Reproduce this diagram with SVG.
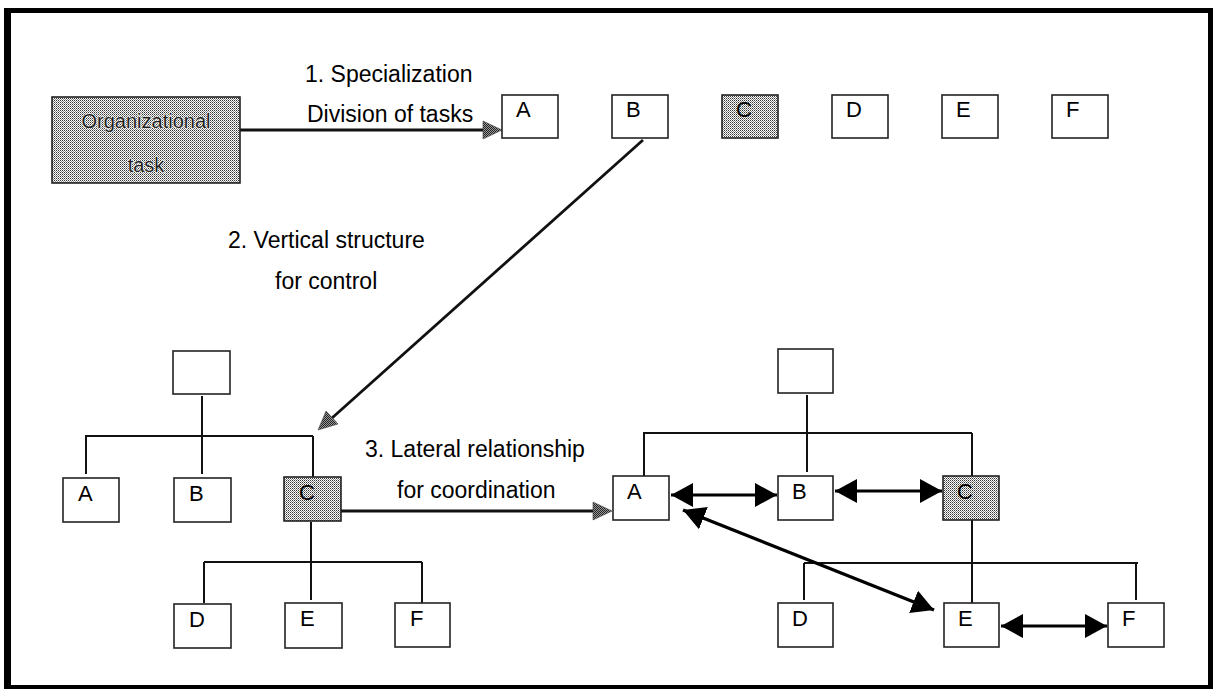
<svg xmlns="http://www.w3.org/2000/svg" width="1218" height="691" viewBox="0 0 1218 691">
  <defs>
    <!-- halftone screen used for shaded boxes and hollow arrowheads -->
    <pattern id="screen" width="2" height="2" patternUnits="userSpaceOnUse">
      <rect width="2" height="2" fill="#fff"/>
      <rect width="1" height="1" fill="#333"/>
      <rect x="1" y="1" width="1" height="1" fill="#888"/>
    </pattern>
    <pattern id="screen-dark" width="2" height="2" patternUnits="userSpaceOnUse">
      <rect width="2" height="2" fill="#999"/>
      <rect width="1" height="1" fill="#222"/>
      <rect x="1" y="1" width="1" height="1" fill="#222"/>
    </pattern>
    <marker id="head" markerUnits="userSpaceOnUse" markerWidth="24" markerHeight="26" refX="22" refY="12" orient="auto-start-reverse">
      <path d="M0,0 L22,12 L0,24 Z" fill="#000"/>
    </marker>
    <style>
      .box { fill: #fff; stroke: #222; stroke-width: 1.6; }
      .shaded { fill: url(#screen); stroke: #222; stroke-width: 1.6; }
      .lbl { font-family: "Liberation Sans", Arial, sans-serif; font-size: 22px; fill: #000; }
      .cap { font-family: "Liberation Sans", Arial, sans-serif; font-size: 23px; fill: #000; }
      .task { font-family: "Liberation Sans", Arial, sans-serif; font-size: 20px; fill: #1e1e1e; stroke: #fff; stroke-width: 1; paint-order: stroke; }
      .tree { stroke: #111; stroke-width: 2; fill: none; }
      .flow { stroke: #111; stroke-width: 2.8; fill: none; }
      .link { stroke: #000; stroke-width: 2.8; fill: none; marker-start: url(#head); marker-end: url(#head); }
      .tip { fill: url(#screen-dark); stroke: #444; stroke-width: 0.6; }
    </style>
  </defs>

  <!-- page frame -->
  <g id="frame" fill="#000">
    <rect x="4" y="8" width="7" height="681"/>
    <rect x="4" y="8" width="1209" height="5"/>
    <rect x="1208" y="8" width="5" height="681"/>
    <rect x="4" y="685" width="1209" height="4"/>
  </g>

  <!-- captions -->
  <g id="captions" class="cap">
    <text x="305" y="82">1. Specialization</text>
    <text x="307" y="122">Division of tasks</text>
    <text x="228" y="248">2. Vertical structure</text>
    <text x="275" y="289">for control</text>
    <text x="365" y="457">3. Lateral relationship</text>
    <text x="397" y="498">for coordination</text>
  </g>

  <!-- connectors -->
  <g id="connectors">
    <!-- step 1: task split into A..F -->
    <line class="flow" x1="240" y1="130" x2="485" y2="130"/>
    <polygon class="tip" points="502,130 483,121 483,139"/>
    <!-- step 2: towards the hierarchy -->
    <line class="flow" x1="643" y1="140" x2="332" y2="418"/>
    <polygon class="tip" points="318,430 338,424 326,411"/>
    <!-- step 3: towards the lateral structure -->
    <line class="flow" x1="341" y1="511" x2="595" y2="511"/>
    <polygon class="tip" points="612,511 593,502 593,520"/>

    <!-- left hierarchy -->
    <path class="tree" d="M202,396 V474 M85,436 H313 M86,436 V474 M313,436 V477"/>
    <path class="tree" d="M311,522 V600 M204,562 H422 M204,562 V603 M422,562 V603"/>

    <!-- right hierarchy -->
    <path class="tree" d="M807,395 V472 M643,433 H972 M644,433 V476 M972,433 V476"/>
    <path class="tree" d="M972,520 V606 M804,563 H1138 M804,563 V600 M1136,563 V600"/>

    <!-- lateral links -->
    <line class="link" x1="671" y1="495" x2="777" y2="495"/>
    <line class="link" x1="835" y1="491" x2="942" y2="491"/>
    <line class="link" x1="683" y1="510" x2="934" y2="610" style="stroke-width:3.4"/>
    <line class="link" x1="1001" y1="626" x2="1107" y2="626"/>
  </g>

  <!-- organizational task -->
  <g id="task">
    <rect class="shaded" x="52" y="97" width="188" height="86"/>
    <text class="task" x="146" y="128" text-anchor="middle">Organizational</text>
    <text class="task" x="146" y="172" text-anchor="middle">task</text>
  </g>

  <!-- top row: divided tasks -->
  <g id="top-A"><rect class="box" x="502" y="95" width="56" height="43"/><text class="lbl" x="516" y="117">A</text></g>
  <g id="top-B"><rect class="box" x="612" y="95" width="56" height="43"/><text class="lbl" x="626" y="117">B</text></g>
  <g id="top-C"><rect class="shaded" x="722" y="95" width="56" height="43"/><text class="lbl" x="736" y="117">C</text></g>
  <g id="top-D"><rect class="box" x="832" y="95" width="56" height="43"/><text class="lbl" x="846" y="117">D</text></g>
  <g id="top-E"><rect class="box" x="942" y="95" width="56" height="43"/><text class="lbl" x="956" y="117">E</text></g>
  <g id="top-F"><rect class="box" x="1052" y="95" width="56" height="43"/><text class="lbl" x="1066" y="117">F</text></g>

  <!-- left hierarchy -->
  <g id="left-head"><rect class="box" x="173" y="351" width="57" height="43"/></g>
  <g id="left-A"><rect class="box" x="63" y="478" width="56" height="44"/><text class="lbl" x="78" y="501">A</text></g>
  <g id="left-B"><rect class="box" x="174" y="478" width="57" height="44"/><text class="lbl" x="189" y="501">B</text></g>
  <g id="left-C"><rect class="shaded" x="284" y="477" width="57" height="44"/><text class="lbl" x="299" y="500">C</text></g>
  <g id="left-D"><rect class="box" x="174" y="604" width="57" height="44"/><text class="lbl" x="189" y="627">D</text></g>
  <g id="left-E"><rect class="box" x="285" y="603" width="57" height="45"/><text class="lbl" x="300" y="626">E</text></g>
  <g id="left-F"><rect class="box" x="395" y="603" width="55" height="44"/><text class="lbl" x="410" y="626">F</text></g>

  <!-- right hierarchy -->
  <g id="right-head"><rect class="box" x="778" y="349" width="55" height="44"/></g>
  <g id="right-A"><rect class="box" x="613" y="476" width="56" height="44"/><text class="lbl" x="627" y="499">A</text></g>
  <g id="right-B"><rect class="box" x="778" y="476" width="55" height="44"/><text class="lbl" x="792" y="499">B</text></g>
  <g id="right-C"><rect class="shaded" x="943" y="476" width="56" height="44"/><text class="lbl" x="957" y="499">C</text></g>
  <g id="right-D"><rect class="box" x="778" y="603" width="55" height="44"/><text class="lbl" x="792" y="626">D</text></g>
  <g id="right-E"><rect class="box" x="944" y="603" width="55" height="44"/><text class="lbl" x="958" y="626">E</text></g>
  <g id="right-F"><rect class="box" x="1108" y="603" width="56" height="44"/><text class="lbl" x="1122" y="626">F</text></g>
</svg>
